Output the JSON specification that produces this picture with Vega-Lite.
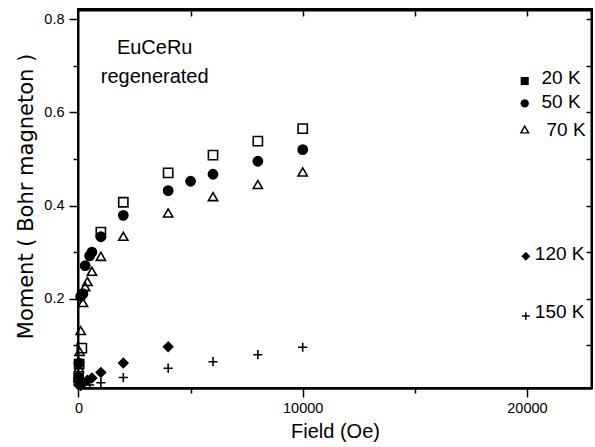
{
"$schema": "https://vega.github.io/schema/vega-lite/v6.json",
"width": 514,
"height": 379,
"autosize": {"type": "none"},
"padding": {"left": 78, "top": 9, "right": 3, "bottom": 59},
"config": {
  "view": {"stroke": "black", "strokeWidth": 2},
  "font": "Liberation Sans",
  "axis": {"grid": false, "domainColor": "black", "domainWidth": 2, "tickColor": "black", "tickWidth": 1.5, "labelColor": "black", "titleColor": "black", "labelFont": "Liberation Sans", "labelFontSize": 14.5, "titleFont": "Liberation Sans", "titleFontSize": 20, "titleFontWeight": "normal", "labelFlush": false, "labelOverlap": false}
},
"datasets": {
  "moment": [
      {"series": "20 K", "field": 10, "moment": 0.03},
      {"series": "20 K", "field": 30, "moment": 0.06},
      {"series": "20 K", "field": 150, "moment": 0.094},
      {"series": "20 K", "field": 1000, "moment": 0.343},
      {"series": "20 K", "field": 2000, "moment": 0.407},
      {"series": "20 K", "field": 4000, "moment": 0.470},
      {"series": "20 K", "field": 6000, "moment": 0.508},
      {"series": "20 K", "field": 8000, "moment": 0.538},
      {"series": "20 K", "field": 10000, "moment": 0.565},
      {"series": "50 K", "field": 10, "moment": 0.03},
      {"series": "50 K", "field": 20, "moment": 0.062},
      {"series": "50 K", "field": 100, "moment": 0.205},
      {"series": "50 K", "field": 200, "moment": 0.211},
      {"series": "50 K", "field": 300, "moment": 0.271},
      {"series": "50 K", "field": 500, "moment": 0.292},
      {"series": "50 K", "field": 600, "moment": 0.300},
      {"series": "50 K", "field": 1000, "moment": 0.333},
      {"series": "50 K", "field": 2000, "moment": 0.379},
      {"series": "50 K", "field": 4000, "moment": 0.432},
      {"series": "50 K", "field": 5000, "moment": 0.452},
      {"series": "50 K", "field": 6000, "moment": 0.467},
      {"series": "50 K", "field": 8000, "moment": 0.495},
      {"series": "50 K", "field": 10000, "moment": 0.520},
      {"series": "70 K", "field": 10, "moment": 0.033},
      {"series": "70 K", "field": 20, "moment": 0.052},
      {"series": "70 K", "field": 50, "moment": 0.087},
      {"series": "70 K", "field": 100, "moment": 0.132},
      {"series": "70 K", "field": 200, "moment": 0.192},
      {"series": "70 K", "field": 300, "moment": 0.226},
      {"series": "70 K", "field": 400, "moment": 0.237},
      {"series": "70 K", "field": 600, "moment": 0.259},
      {"series": "70 K", "field": 1000, "moment": 0.291},
      {"series": "70 K", "field": 2000, "moment": 0.334},
      {"series": "70 K", "field": 4000, "moment": 0.384},
      {"series": "70 K", "field": 6000, "moment": 0.419},
      {"series": "70 K", "field": 8000, "moment": 0.445},
      {"series": "70 K", "field": 10000, "moment": 0.472},
      {"series": "120 K", "field": 10, "moment": 0.015},
      {"series": "120 K", "field": 100, "moment": 0.018},
      {"series": "120 K", "field": 200, "moment": 0.020},
      {"series": "120 K", "field": 400, "moment": 0.025},
      {"series": "120 K", "field": 600, "moment": 0.030},
      {"series": "120 K", "field": 1000, "moment": 0.042},
      {"series": "120 K", "field": 2000, "moment": 0.062},
      {"series": "120 K", "field": 4000, "moment": 0.097},
      {"series": "150 K", "field": 100, "moment": 0.012},
      {"series": "150 K", "field": 500, "moment": 0.015},
      {"series": "150 K", "field": 1000, "moment": 0.020},
      {"series": "150 K", "field": 2000, "moment": 0.031},
      {"series": "150 K", "field": 4000, "moment": 0.051},
      {"series": "150 K", "field": 6000, "moment": 0.065},
      {"series": "150 K", "field": 8000, "moment": 0.080},
      {"series": "150 K", "field": 10000, "moment": 0.096}
  ]
},
"resolve": {"axis": {"x": "independent", "y": "independent"}},
"layer": [
  {
    "data": {"name": "moment"},
    "mark": {"type": "point", "stroke": "black", "strokeWidth": 1.6, "size": 85, "opacity": 1},
    "encoding": {
      "x": {"field": "field", "type": "quantitative",
        "scale": {"domain": [-20, 22900], "nice": false, "zero": false},
        "axis": {"orient": "bottom", "values": [0, 5000, 10000, 15000, 20000], "format": "d",
          "labelExpr": "datum.value % 10000 == 0 ? datum.label : ''",
          "tickSize": {"condition": {"test": "datum.value % 10000 == 0", "value": 9}, "value": 5},
          "domainWidth": 2.5, "labelPadding": 4,
          "title": "Field (Oe)", "titleX": 257, "titleY": 43, "titleBaseline": "middle", "titleAlign": "center"}},
      "y": {"field": "moment", "type": "quantitative",
        "scale": {"domain": [0.0086, 0.8215], "nice": false, "zero": false},
        "axis": {"orient": "left", "values": [0.1, 0.2, 0.3, 0.4, 0.5, 0.6, 0.7, 0.8],
          "labelExpr": "round(datum.value*10) % 2 == 0 ? format(datum.value, '.1f') : ''",
          "tickSize": {"condition": {"test": "round(datum.value*10) % 2 == 0", "value": 9}, "value": 5},
          "labelPadding": 5,
          "title": "Moment ( Bohr magneton )", "titleFont": "DejaVu Sans", "titleFontSize": 21,
          "titleX": -52, "titleY": 187, "titleBaseline": "middle", "titleAlign": "center", "titleAngle": -90}},
      "shape": {"field": "series", "type": "nominal",
        "scale": {"domain": ["20 K", "50 K", "70 K", "120 K", "150 K"], "range": ["square", "circle", "triangle-up", "diamond", "M-1,0H1M0,-1V1"]},
        "legend": null},
      "fill": {"field": "series", "type": "nominal",
        "scale": {"domain": ["20 K", "50 K", "70 K", "120 K", "150 K"], "range": ["transparent", "black", "transparent", "black", "transparent"]},
        "legend": null}
    }
  },
  {
    "data": {"name": "moment"},
    "mark": {"type": "point", "opacity": 0},
    "encoding": {
      "x": {"field": "field", "type": "quantitative",
        "axis": {"orient": "top", "values": [5000, 10000, 15000, 20000], "labels": false, "title": null, "domain": false,
          "offset": -7, "tickSize": {"condition": {"test": "datum.value % 10000 == 0", "value": 7}, "value": 5}}},
      "y": {"field": "moment", "type": "quantitative",
        "axis": {"orient": "right", "values": [0.1, 0.2, 0.3, 0.4, 0.5, 0.6, 0.7, 0.8], "labels": false, "title": null, "domain": false,
          "offset": -6, "tickSize": 6}}
    }
  },
  {
    "data": {"name": "moment"},
    "mark": {"type": "point", "opacity": 0},
    "encoding": {
      "x": {"field": "field", "type": "quantitative",
        "axis": {"orient": "top", "labels": false, "ticks": false, "title": null, "domain": true, "offset": -1}},
      "y": {"field": "moment", "type": "quantitative",
        "axis": {"orient": "right", "labels": false, "ticks": false, "title": null, "domain": true, "offset": -1}}
    }
  },
  {
    "data": {"values": [{}]},
    "mark": {"type": "text", "text": ["EuCeRu", "regenerated"], "lineHeight": 29, "align": "center", "baseline": "alphabetic", "fontSize": 20, "color": "black"},
    "encoding": {
      "x": {"datum": 3400, "type": "quantitative", "axis": null},
      "y": {"datum": 0.7247, "type": "quantitative", "axis": null}
    }
  },
  {
    "data": {"values": [{"label": "20 K"}]},
    "layer": [
      {"mark": {"type": "point", "shape": "square", "filled": true, "color": "black", "size": 65, "opacity": 1},
       "encoding": {"x": {"datum": 19900, "type": "quantitative", "axis": null}, "y": {"datum": 0.667, "type": "quantitative", "axis": null}}},
      {"mark": {"type": "text", "align": "left", "baseline": "middle", "fontSize": 19, "color": "black"},
       "encoding": {"text": {"field": "label"}, "x": {"datum": 20650, "type": "quantitative", "axis": null}, "y": {"datum": 0.673, "type": "quantitative", "axis": null}}}
    ]
  },
  {
    "data": {"values": [{"label": "50 K"}]},
    "layer": [
      {"mark": {"type": "point", "shape": "circle", "filled": true, "color": "black", "size": 70, "opacity": 1},
       "encoding": {"x": {"datum": 19900, "type": "quantitative", "axis": null}, "y": {"datum": 0.619, "type": "quantitative", "axis": null}}},
      {"mark": {"type": "text", "align": "left", "baseline": "middle", "fontSize": 19, "color": "black"},
       "encoding": {"text": {"field": "label"}, "x": {"datum": 20650, "type": "quantitative", "axis": null}, "y": {"datum": 0.621, "type": "quantitative", "axis": null}}}
    ]
  },
  {
    "data": {"values": [{"label": "70 K"}]},
    "layer": [
      {"mark": {"type": "point", "shape": "triangle-up", "filled": false, "color": "black", "strokeWidth": 1.4, "size": 60, "opacity": 1},
       "encoding": {"x": {"datum": 19900, "type": "quantitative", "axis": null}, "y": {"datum": 0.563, "type": "quantitative", "axis": null}}},
      {"mark": {"type": "text", "align": "left", "baseline": "middle", "fontSize": 19, "color": "black"},
       "encoding": {"text": {"field": "label"}, "x": {"datum": 20870, "type": "quantitative", "axis": null}, "y": {"datum": 0.561, "type": "quantitative", "axis": null}}}
    ]
  },
  {
    "data": {"values": [{"label": "120 K"}]},
    "layer": [
      {"mark": {"type": "point", "shape": "diamond", "filled": true, "color": "black", "size": 80, "opacity": 1},
       "encoding": {"x": {"datum": 19950, "type": "quantitative", "axis": null}, "y": {"datum": 0.291, "type": "quantitative", "axis": null}}},
      {"mark": {"type": "text", "align": "left", "baseline": "middle", "fontSize": 19, "color": "black"},
       "encoding": {"text": {"field": "label"}, "x": {"datum": 20350, "type": "quantitative", "axis": null}, "y": {"datum": 0.295, "type": "quantitative", "axis": null}}}
    ]
  },
  {
    "data": {"values": [{"label": "150 K"}]},
    "layer": [
      {"mark": {"type": "point", "shape": "M-1,0H1M0,-1V1", "filled": false, "color": "black", "strokeWidth": 1.4, "size": 60, "opacity": 1},
       "encoding": {"x": {"datum": 19950, "type": "quantitative", "axis": null}, "y": {"datum": 0.163, "type": "quantitative", "axis": null}}},
      {"mark": {"type": "text", "align": "left", "baseline": "middle", "fontSize": 19, "color": "black"},
       "encoding": {"text": {"field": "label"}, "x": {"datum": 20350, "type": "quantitative", "axis": null}, "y": {"datum": 0.172, "type": "quantitative", "axis": null}}}
    ]
  }
]
}
